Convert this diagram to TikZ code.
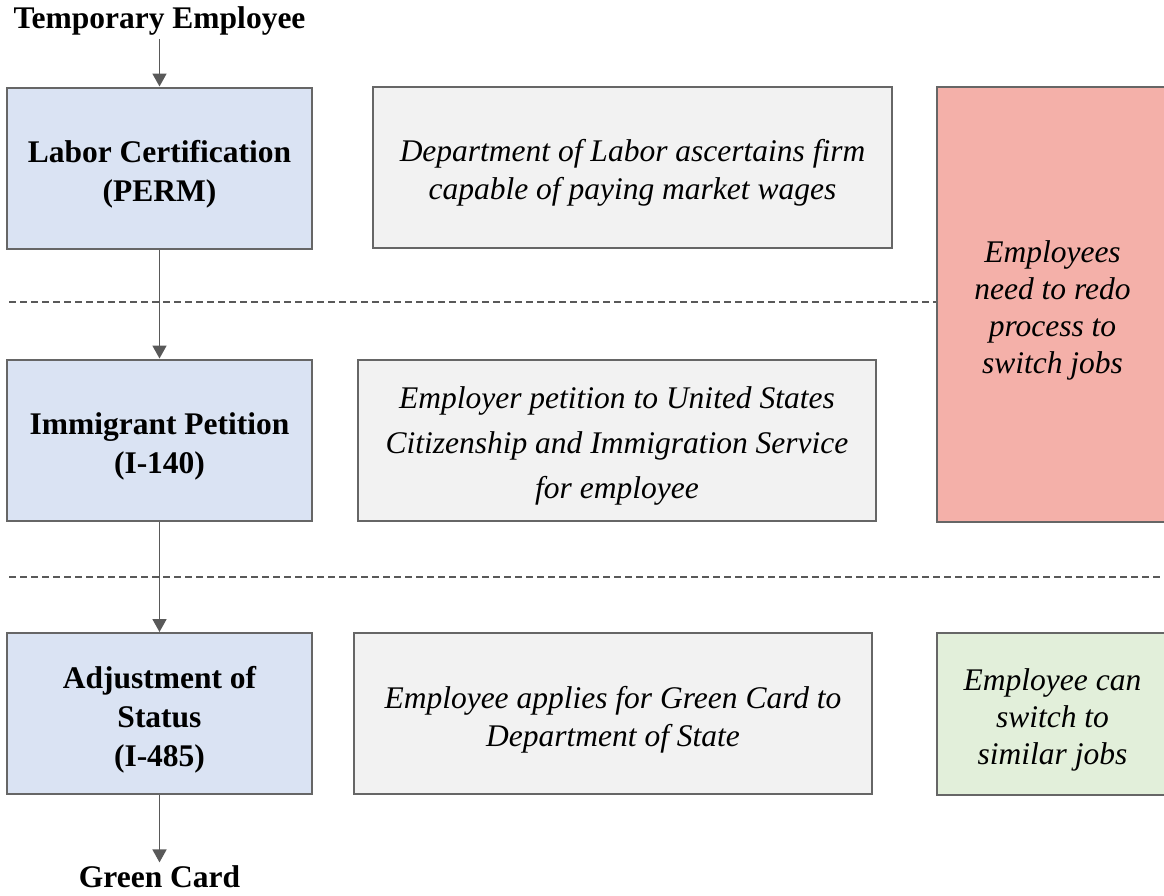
\documentclass[tikz,border=0pt]{standalone}
\usepackage{fontspec}
\setmainfont{Liberation Serif}
\usetikzlibrary{arrows.meta}
\definecolor{stepblue}{HTML}{DAE3F3}
\definecolor{notegray}{HTML}{F2F2F2}
\definecolor{redofill}{HTML}{F4B0A9}
\definecolor{switchfill}{HTML}{E2EFDA}
\definecolor{edgegray}{HTML}{666666}
\definecolor{linkgray}{HTML}{595959}
% extra room above the first line, so box texts sit a little low
\newcommand{\topgap}{\rule{0pt}{34pt}}
\begin{document}
\begin{tikzpicture}[x=1pt,y=-1pt,
  box/.style={draw=edgegray, line width=2pt, inner sep=0pt, align=center},
  stage/.style={box, fill=stepblue, font=\fontsize{31.5}{39}\selectfont\bfseries,
    minimum width=305pt, minimum height=161pt},
  note/.style={box, fill=notegray, font=\fontsize{31.5}{38}\selectfont\itshape,
    minimum height=161pt},
  side/.style={box, font=\fontsize{31.5}{37}\selectfont\itshape, minimum width=231pt},
  term/.style={font=\fontsize{31.5}{36}\selectfont\bfseries},
  link/.style={draw=linkgray, line width=1.8pt, -{Triangle[width=14pt,length=13pt]}},
  divider/.style={draw=linkgray, line width=1.2pt, dash pattern=on 7pt off 4pt}
]
\useasboundingbox (0,0) rectangle (1164,895);

% start and end labels
\node[term] (temp) at (159.5,21) {Temporary Employee};
\node[term] (card) at (159.5,877) {Green Card};

% the three stages
\node[stage] (perm) at (159.5,168) {\topgap Labor Certification\\(PERM)};
\node[stage] (petition) at (159.5,440) {\topgap Immigrant Petition\\(I-140)};
\node[stage] (adjust) at (159.5,713.5) {\topgap Adjustment of\\Status\\(I-485)};

% descriptions of each stage
\node[note, minimum width=519pt] (permnote) at (632.5,167)
  {\topgap Department of Labor ascertains firm\\capable of paying market wages};
\node[note, minimum width=518pt, font=\fontsize{31.5}{45}\selectfont\itshape] (petitionnote) at (617,440)
  {\topgap Employer petition to United States\\Citizenship and Immigration Service\\for employee};
\node[note, minimum width=518pt] (adjustnote) at (613,713.5)
  {\topgap Employee applies for Green Card to\\Department of State};

% job mobility notes
\node[side, fill=redofill, minimum height=435pt] (redo) at (1052.5,304)
  {\topgap Employees\\need to redo\\process to\\switch jobs};
\node[side, fill=switchfill, minimum height=162pt] (switch) at (1052.5,713.5)
  {\topgap Employee can\\switch to\\similar jobs};

% flow between stages
\draw[link] (temp.south) -- (perm.north);
\draw[link] (perm.south) -- (petition.north);
\draw[link] (petition.south) -- (adjust.north);
\draw[link] (adjust.south) -- (card.north);

% phase separators
\coordinate (d1) at (9,302);
\coordinate (d2) at (9,577);
\draw[divider] (d1) -- (d1 -| redo.west);
\draw[divider] (d2) -- (1164,577);
\end{tikzpicture}
\end{document}
